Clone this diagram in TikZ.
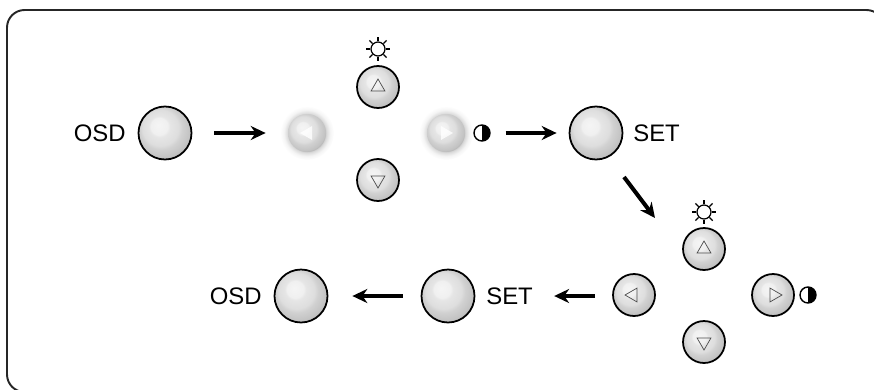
\documentclass[tikz,border=0pt]{standalone}
\usepackage{fontspec}
\setmainfont{Liberation Sans}
\usetikzlibrary{arrows.meta,shapes.geometric}
\pgfdeclareradialshading{btnball}{\pgfpoint{-6.5bp}{7.5bp}}{
    color(0bp)=(black!4); color(8bp)=(black!6); color(10bp)=(black!10);
    color(17bp)=(black!13); color(20bp)=(black!18); color(27bp)=(black!24);
    color(30bp)=(black!33); color(36bp)=(black!42); color(50bp)=(black!42)}
\pgfdeclareradialshading{softhalo}{\pgfpoint{0bp}{0bp}}{
    color(0bp)=(black!22); color(16.5bp)=(black!22); color(18.5bp)=(black!13);
    color(21.5bp)=(black!4); color(25bp)=(white); color(50bp)=(white)}
\tikzset{
    btn/.style={circle,draw=black,line width=1pt,shading=btnball,inner sep=0pt,minimum size=42*0.02cm},
    softbtn/.style={circle,shading=btnball,inner sep=0pt,minimum size=38*0.02cm},
    softglow/.style={circle,shading=softhalo,inner sep=0pt,minimum size=54*0.02cm},
    bigbtn/.style={btn,minimum size=53*0.02cm},
    tri/.style={regular polygon,regular polygon sides=3,draw=black!70,line width=0.4pt,inner sep=0pt,minimum size=16*0.02cm},
    softtri/.style={tri,draw=none,fill=white,fill opacity=0.8},
    sunmark/.style={circle,draw=black,line width=0.7pt,inner sep=0pt,minimum size=14*0.02cm},
    halfmark/.style={circle,draw=black,line width=0.8pt,inner sep=0pt,minimum size=16*0.02cm,
        path picture={\fill[black] (path picture bounding box.south) rectangle (path picture bounding box.north east);}},
    lbl/.style={font=\fontsize{13.6pt}{15pt}\selectfont,inner sep=0pt},
    flow/.style={-{Stealth[length=8.5pt,width=8pt]},line width=1.9pt,black},
}
\begin{document}
\begin{tikzpicture}[x=0.02cm,y=-0.02cm]
    \path[use as bounding box] (0,0) rectangle (874,389);
    \clip (0,0) rectangle (874,389);
    \draw[line width=1.1pt,black!85,rounded corners=10pt] (40,392) -- (7,392) -- (7,10) -- (884,10) -- (884,50);

    \node[lbl,anchor=east] (osdtext1) at (126,133) {OSD};
    \node[bigbtn] (osd1) at (165,133) {};
    \node[softglow] (leftglow1) at (307,133) {};
    \node[softbtn] (left1) at (307,133) {};
    \node[softtri,rotate=90] (lefttri1) at (308,133) {};
    \node[btn] (up1) at (378,87) {};
    \node[tri] (uptri1) at (378,87) {};
    \node[btn] (down1) at (378,180) {};
    \node[tri,rotate=180] (downtri1) at (378,180) {};
    \node[softglow] (rightglow1) at (446,133) {};
    \node[softbtn] (right1) at (446,133) {};
    \node[softtri,rotate=-90] (righttri1) at (445,133) {};
    \node[sunmark] (sun1) at (378,49) {};
    \node[halfmark] (half1) at (482,133) {};
    \node[bigbtn] (set1) at (596,133) {};
    \node[lbl,anchor=west] (settext1) at (633,133) {SET};

    \node[btn] (up2) at (704,249) {};
    \node[tri] (uptri2) at (704,249) {};
    \node[btn] (left2) at (634,295) {};
    \node[tri,rotate=90] (lefttri2) at (633,295) {};
    \node[btn] (right2) at (773,295) {};
    \node[tri,rotate=-90] (righttri2) at (774,295) {};
    \node[btn] (down2) at (704,342) {};
    \node[tri,rotate=180] (downtri2) at (704,342) {};
    \node[sunmark] (sun2) at (704,212) {};
    \node[halfmark] (half2) at (808,295) {};
    \node[bigbtn] (set2) at (448,296) {};
    \node[lbl,anchor=west] (settext2) at (486,296) {SET};
    \node[bigbtn] (osd2) at (301,296) {};
    \node[lbl,anchor=east] (osdtext2) at (262,296) {OSD};

    \foreach \m in {sun1,sun2}
        \foreach \a in {0,45,...,315}
            \draw[line width=0.7pt] (\m.\a) -- ++(\a:2.6pt);

    \coordinate (bendstart) at (624,177);
    \coordinate (bendend) at (655,218);
    \draw[flow,shorten <=22*0.02cm,shorten >=22*0.02cm] (osd1) -- (left1);
    \draw[flow,shorten <=15*0.02cm,shorten >=12*0.02cm] (half1) -- (set1);
    \draw[flow,line width=2.3pt] (bendstart) -- (bendend);
    \draw[flow,shorten <=17*0.02cm,shorten >=21*0.02cm] (left2.west |- set2) -- (settext2);
    \draw[flow,shorten <=18*0.02cm,shorten >=24*0.02cm] (set2) -- (osd2);
\end{tikzpicture}
\end{document}
